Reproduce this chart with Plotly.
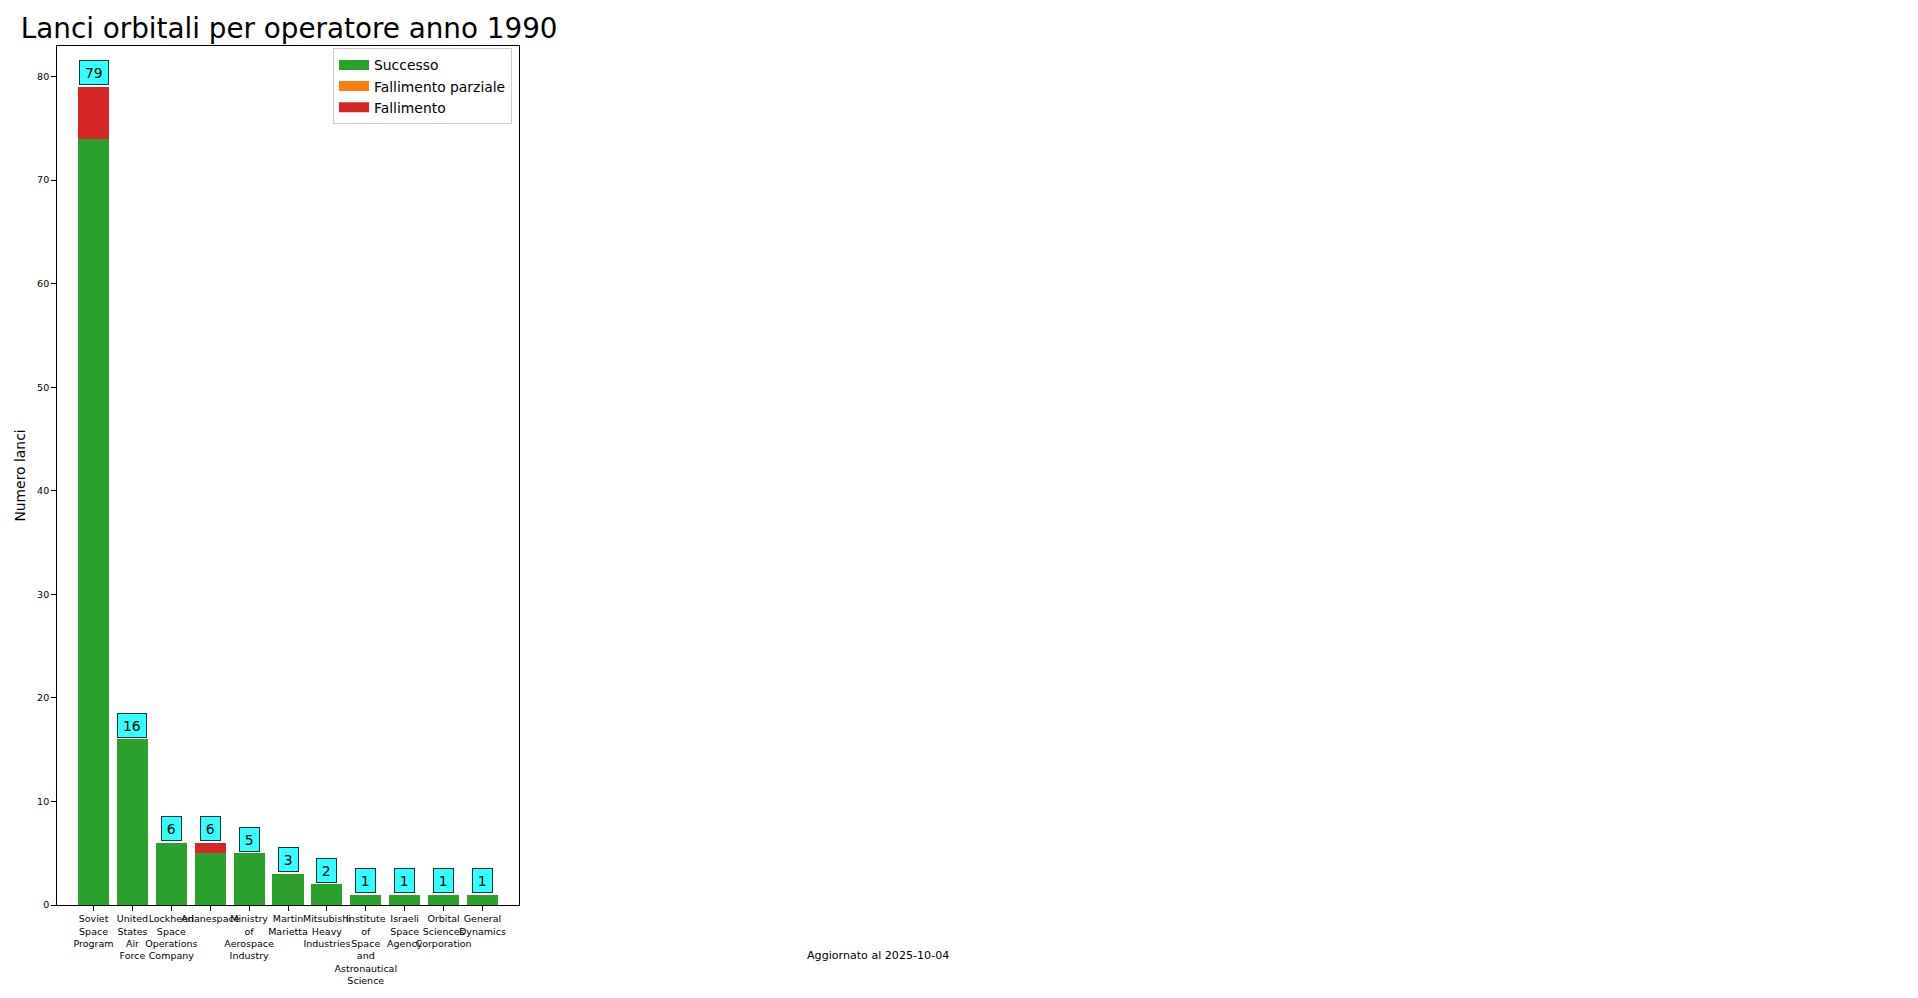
import plotly.graph_objects as go

# Orbital launches by operator, 1990
operators = [
    "Soviet Space Program",
    "United States Air Force",
    "Lockheed Space Operations Company",
    "Arianespace",
    "Ministry of Aerospace Industry",
    "Martin Marietta",
    "Mitsubishi Heavy Industries",
    "Institute of Space and Astronautical Science",
    "Israeli Space Agency",
    "Orbital Sciences Corporation",
    "General Dynamics",
]
successo = [74, 16, 6, 5, 5, 3, 2, 1, 1, 1, 1]
fallimento_parziale = [0, 0, 0, 0, 0, 0, 0, 0, 0, 0, 0]
fallimento = [5, 0, 0, 1, 0, 0, 0, 0, 0, 0, 0]
totali = [s + p + f for s, p, f in zip(successo, fallimento_parziale, fallimento)]

y_ticks = [0, 10, 20, 30, 40, 50, 60, 70, 80]

series = [
    ("Successo", successo, "#2ca02c"),
    ("Fallimento parziale", fallimento_parziale, "#ff7f0e"),
    ("Fallimento", fallimento, "#d62728"),
]

W, H = 1918, 998
AX_L, AX_R, AX_T, AX_B = 57.3, 519.3, 45.5, 905.0
FONT = "DejaVu Sans"

fig = go.Figure()
for name, vals, color in series:
    fig.add_trace(go.Bar(
        x=operators, y=vals, name=name, width=0.8,
        marker=dict(color=color, line=dict(width=0)),
        legendgroup=name, showlegend=False,
    ))
    # wide legend swatch
    fig.add_trace(go.Scatter(
        x=[None], y=[None], mode="lines", name=name,
        line=dict(color=color, width=10),
        legendgroup=name, showlegend=True,
    ))

# total-count labels above each bar
for op, tot in zip(operators, totali):
    txt = str(tot)
    fig.add_annotation(
        x=op, y=tot, text=txt, showarrow=False,
        xref="x", yref="y", yanchor="bottom", yshift=1.5,
        font=dict(family=FONT, size=13.9, color="black"),
        bgcolor="rgba(0,255,255,0.8)", bordercolor="rgba(0,0,0,0.8)",
        borderwidth=1, borderpad=2, width=9 * len(txt) + 5.5, height=19,
    )

pw = AX_R - AX_L
ph = AX_B - AX_T
fig.add_annotation(
    x=(878 - AX_L) / pw, y=(AX_B - 955.7) / ph, xref="paper", yref="paper",
    text="Aggiornato al 2025-10-04", showarrow=False,
    xanchor="center", yanchor="middle",
    font=dict(family=FONT, size=11.1, color="black"),
)

fig.update_layout(
    width=W, height=H, autosize=False,
    margin=dict(l=AX_L, r=W - AX_R, t=AX_T, b=H - AX_B, pad=0),
    paper_bgcolor="white", plot_bgcolor="white",
    barmode="stack", bargap=0,
    font=dict(family=FONT, color="black"),
    title=dict(
        text="Lanci orbitali per operatore anno 1990",
        font=dict(family=FONT, size=27.8, color="black"),
        xref="container", yref="container",
        x=20.8 / W, xanchor="left", y=1 - 28.5 / H, yanchor="middle",
    ),
    legend=dict(
        x=(512.3 - AX_L) / pw, xanchor="right",
        y=(AX_B - 48.0) / ph, yanchor="top",
        bgcolor="rgba(255,255,255,0.8)", bordercolor="#cccccc", borderwidth=1,
        font=dict(family=FONT, size=13.9, color="black"),
        tracegroupgap=0,
    ),
    showlegend=True,
)

fig.update_xaxes(
    type="category", range=[-0.94, 10.94],
    tickmode="array", tickvals=operators,
    ticktext=[o.replace(" ", "<br>") for o in operators],
    tickangle=0,
    tickfont=dict(family=FONT, size=9.5, color="black"),
    ticks="outside", ticklen=4.86, tickwidth=1.1, tickcolor="black",
    showline=True, linecolor="black", linewidth=1.1, mirror=True,
    showgrid=False, zeroline=False, automargin=False,
)
fig.update_yaxes(
    range=[0, 82.95], tickmode="array", tickvals=y_ticks,
    tickfont=dict(family=FONT, size=9.5, color="black"),
    ticks="outside", ticklen=4.86, tickwidth=1.1, tickcolor="black",
    showline=True, linecolor="black", linewidth=1.1, mirror=True,
    showgrid=False, zeroline=False, automargin=False,
    title=dict(text="Numero lanci", font=dict(family=FONT, size=13.9, color="black"), standoff=8),
)

fig.write_html("out.html")
